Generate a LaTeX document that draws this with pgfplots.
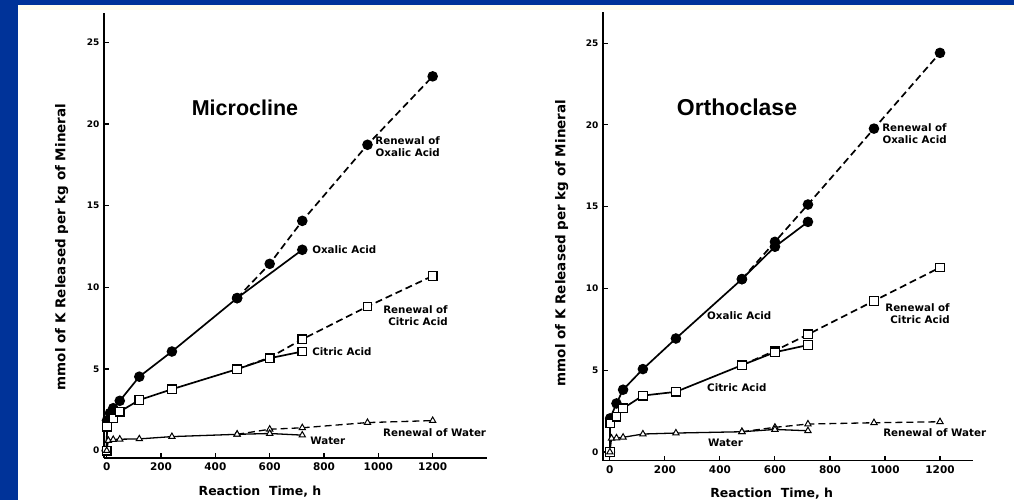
\documentclass[border=0pt]{standalone}
\usepackage{fontspec}
\setmainfont{DejaVu Sans}
\newfontfamily\titlefont{Liberation Sans}
\usepackage{pgfplots}
\pgfplotsset{compat=1.18}
\definecolor{frameblue}{RGB}{0,51,153}

\tikzset{lbl/.style={font=\fontsize{10.3}{12}\selectfont\bfseries}}

\pgfplotsset{
  panel/.style={
    scale only axis, anchor=south west,
    axis x line=bottom, axis y line=left,
    axis line style={-, line width=1.5pt},
    tick align=inside, major tick length=5pt,
    every tick/.style={black, line width=1.1pt},
    xtick={0,200,...,1200}, ytick={0,5,...,25},
    /pgf/number format/assume math mode=true,
    /pgf/number format/1000 sep={},
    x tick label style={font=\fontsize{10.5}{12}\selectfont\bfseries, yshift=-1pt},
    y tick label style={font=\fontsize{9}{10}\selectfont\bfseries, xshift=-1pt},
    clip=false,
  },
  oxa/.style={black, line width=1.7pt, mark=*, mark size=4.4pt,
    mark options={solid, fill=black}},
  cit/.style={black, line width=1.7pt, mark=square*, mark size=4.3pt,
    mark options={solid, fill=white, draw=black, line width=1.3pt}},
  wat/.style={black, line width=1.3pt, mark=triangle*, mark size=3.6pt,
    mark options={solid, fill=white, draw=black, line width=1pt}},
  renew/.style={dash pattern=on 7pt off 4pt},
}

\begin{document}
\begin{tikzpicture}[x=1pt,y=1pt]
\useasboundingbox (0,0) rectangle (1014,500);
\fill[white] (0,0) rectangle (1014,500);
% slide frame
\fill[frameblue] (0,0) rectangle (18,500);
\fill[frameblue] (0,495) rectangle (1014,500);
\fill[white!94!yellow] (18,490) rectangle (1014,495);

% ---------------- Microcline ----------------
\begin{axis}[panel, at={(104pt,42pt)}, width=383pt, height=445pt,
  xmin=-10, xmax=1400, ymin=-0.45, ymax=26.8]
  % renewal series (dashed)
  \addplot[oxa, renew] coordinates {(480,9.34) (600,11.44) (720,14.07) (960,18.73) (1200,22.92)};
  \addplot[cit, renew] coordinates {(480,4.99) (600,5.70) (720,6.82) (960,8.83) (1200,10.70)};
  \addplot[wat, renew] coordinates {(480,1.00) (600,1.31) (720,1.40) (960,1.72) (1200,1.84)};
  % original solutions (solid)
  \addplot[oxa] coordinates {(0,0) (1,1.85) (12,2.3) (24,2.6) (48,3.05) (120,4.53) (240,6.07) (480,9.34) (720,12.30)};
  \addplot[cit] coordinates {(0,0) (1,1.47) (24,1.98) (48,2.39) (120,3.10) (240,3.76) (480,4.99) (600,5.66) (720,6.07)};
  \addplot[wat] coordinates {(0,0) (6,0.62) (24,0.68) (48,0.70) (120,0.72) (240,0.86) (480,1.00) (600,1.05) (720,0.95)};

  \node[font=\titlefont\fontsize{21.5}{24}\selectfont\bfseries] at (509,21.0) {Microcline};
  \node[lbl, anchor=east, align=right, inner sep=0pt] at (1227,18.6) {Renewal of\\Oxalic Acid};
  \node[lbl, anchor=west, inner sep=0pt] at (756,12.3) {Oxalic Acid};
  \node[lbl, anchor=east, align=right, inner sep=0pt] at (1256,8.28) {Renewal of\\Citric Acid};
  \node[lbl, anchor=west, inner sep=0pt] at (756,6.05) {Citric Acid};
  \node[lbl, anchor=west, inner sep=0pt] at (1017,1.08) {Renewal of Water};
  \node[lbl, anchor=west, inner sep=0pt] at (749,0.62) {Water};
\end{axis}

% ---------------- Orthoclase ----------------
\begin{axis}[panel, at={(603pt,39.3pt)}, width=370pt, height=448.7pt,
  xmin=-25, xmax=1320, ymin=-0.53, ymax=26.9]
  \addplot[oxa, renew] coordinates {(480,10.57) (600,12.85) (720,15.13) (960,19.77) (1200,24.40)};
  \addplot[cit, renew] coordinates {(480,5.31) (600,6.19) (720,7.19) (960,9.24) (1200,11.28)};
  \addplot[wat, renew] coordinates {(480,1.24) (600,1.51) (720,1.71) (960,1.79) (1200,1.85)};
  \addplot[oxa] coordinates {(0,0) (1,2.06) (24,2.97) (48,3.81) (120,5.07) (240,6.94) (480,10.57) (600,12.55) (720,14.07)};
  \addplot[cit] coordinates {(0,0) (1,1.75) (24,2.16) (48,2.67) (120,3.45) (240,3.68) (480,5.31) (600,6.10) (720,6.54)};
  \addplot[wat] coordinates {(0,0) (6,0.84) (24,0.86) (48,0.90) (120,1.10) (240,1.16) (480,1.24) (600,1.38) (720,1.30)};

  \node[font=\titlefont\fontsize{23}{26}\selectfont\bfseries] at (462,21.1) {Orthoclase};
  \node[lbl, anchor=east, align=right, inner sep=0pt] at (1225,19.46) {Renewal of\\Oxalic Acid};
  \node[lbl, anchor=west, inner sep=0pt] at (353,8.31) {Oxalic Acid};
  \node[lbl, anchor=east, align=right, inner sep=0pt] at (1236,8.43) {Renewal of\\Citric Acid};
  \node[lbl, anchor=west, inner sep=0pt] at (353,3.91) {Citric Acid};
  \node[lbl, anchor=west, inner sep=0pt] at (356,0.55) {Water};
  \node[lbl, anchor=west, inner sep=0pt] at (993,1.16) {Renewal of Water};
\end{axis}

% axis titles
\node[rotate=90, font=\fontsize{13.5}{15}\selectfont\bfseries] at (61.7,253) {mmol of K Released per kg of Mineral};
\node[font=\fontsize{12.5}{14}\selectfont\bfseries] at (260,8.5) {Reaction\ \ Time, h};
\node[rotate=90, font=\fontsize{13.5}{15}\selectfont\bfseries] at (561.7,257) {mmol of K Released per kg of Mineral};
\node[font=\fontsize{12.5}{14}\selectfont\bfseries] at (771.7,6.7) {Reaction\ \ Time, h};
\end{tikzpicture}
\end{document}
